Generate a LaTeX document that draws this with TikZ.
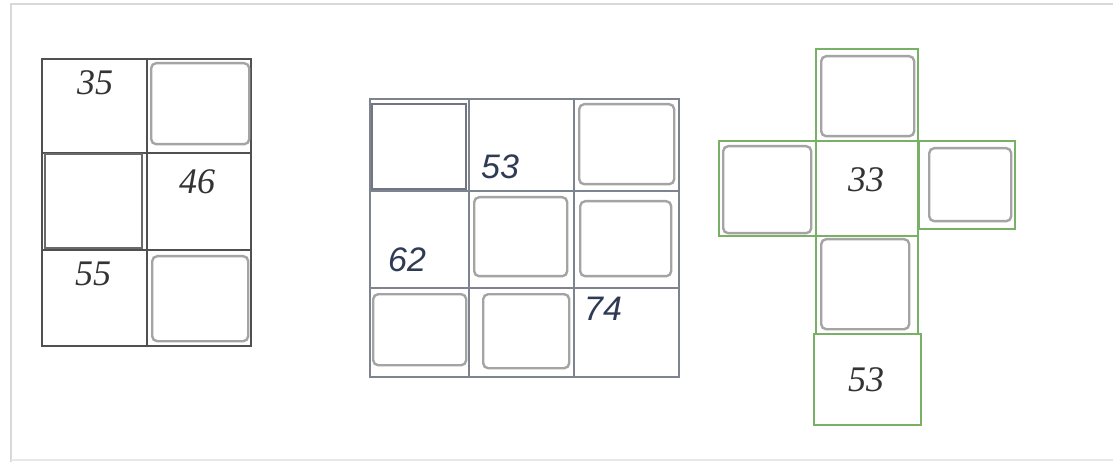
\documentclass[tikz,border=0pt]{standalone}
\usepackage{fontspec}
\setmainfont{Liberation Serif}
\newfontfamily\numsans{Liberation Sans}
\definecolor{gridL}{HTML}{505050}
\definecolor{gridM}{HTML}{7E8390}
\definecolor{gridG}{HTML}{78B066}
\definecolor{inner}{HTML}{A4A4A4}
\definecolor{numM}{HTML}{2F3A55}
\definecolor{frame}{HTML}{D8D8D8}
\tikzset{
  cellL/.style={draw=gridL, line width=2pt, anchor=north west, inner sep=0pt},
  cellM/.style={draw=gridM, line width=1.9pt, anchor=north west, inner sep=0pt},
  cellG/.style={draw=gridG, line width=2.1pt, anchor=north west, inner sep=0pt},
  rbox/.style={draw=inner, line width=2.4pt, rounded corners=5pt, anchor=north west, inner sep=0pt},
  pbox/.style={draw=gridL!85, line width=2.2pt, anchor=north west, inner sep=0pt},
  numS/.style={font=\fontsize{36}{36}\selectfont\itshape, text=black!80, inner sep=0pt},
  numA/.style={font=\numsans\fontsize{34}{34}\selectfont\itshape, text=numM, inner sep=0pt},
}
\begin{document}
\begin{tikzpicture}[x=1pt,y=-1pt]
\useasboundingbox (0,0) rectangle (1113,462);
\fill[white] (0,0) rectangle (1113,462);
% faint frame
\draw[frame, line width=2.5pt] (11,462) -- (11,4) -- (1113,4);
\draw[frame!60, line width=1.5pt] (11,460) -- (1113,460);

% ---------- left grid ----------
\node[cellL, minimum width=105pt, minimum height=94pt] (l11) at (41,58) {};
\node[cellL, minimum width=104pt, minimum height=94pt] (l12) at (146,58) {};
\node[cellL, minimum width=105pt, minimum height=97pt] (l21) at (41,152) {};
\node[cellL, minimum width=104pt, minimum height=97pt] (l22) at (146,152) {};
\node[cellL, minimum width=105pt, minimum height=96pt] (l31) at (41,249) {};
\node[cellL, minimum width=104pt, minimum height=96pt] (l32) at (146,249) {};
\node[rbox, minimum width=98pt, minimum height=81pt] (lb12) at (150,62) {};
\node[pbox, minimum width=97pt, minimum height=94pt] (lb21) at (44,153) {};
\node[rbox, minimum width=96pt, minimum height=85pt] (lb32) at (151,255) {};
\node[numS] (n35) at (95,83) {35};
\node[numS] (n46) at (197,182) {46};
\node[numS] (n55) at (93,274) {55};

% ---------- middle grid ----------
\node[cellM, minimum width=99pt, minimum height=92pt] (m11) at (369,98) {};
\node[cellM, minimum width=105pt, minimum height=92pt] (m12) at (468,98) {};
\node[cellM, minimum width=105pt, minimum height=92pt] (m13) at (573,98) {};
\node[cellM, minimum width=99pt, minimum height=97pt] (m21) at (369,190) {};
\node[cellM, minimum width=105pt, minimum height=97pt] (m22) at (468,190) {};
\node[cellM, minimum width=105pt, minimum height=97pt] (m23) at (573,190) {};
\node[cellM, minimum width=99pt, minimum height=89pt] (m31) at (369,287) {};
\node[cellM, minimum width=105pt, minimum height=89pt] (m32) at (468,287) {};
\node[cellM, minimum width=105pt, minimum height=89pt] (m33) at (573,287) {};
\node[pbox, draw=gridM!90!black, minimum width=94pt, minimum height=85pt] (mb11) at (371,103) {};
\node[rbox, minimum width=95pt, minimum height=80pt] (mb13) at (578,103) {};
\node[rbox, minimum width=93pt, minimum height=79pt] (mb22) at (473,196) {};
\node[rbox, minimum width=91pt, minimum height=75pt] (mb23) at (579,200) {};
\node[rbox, minimum width=93pt, minimum height=71pt] (mb31) at (372,293) {};
\node[rbox, minimum width=86pt, minimum height=74pt] (mb32) at (482,293) {};
\node[numA] (n53a) at (500,167) {53};
\node[numA] (n62) at (407,260) {62};
\node[numA] (n74) at (603,309) {74};

% ---------- right cross ----------
\node[cellG, minimum width=102pt, minimum height=92pt] (g1) at (815,48) {};
\node[cellG, minimum width=97pt, minimum height=95pt] (g2l) at (718,140) {};
\node[cellG, minimum width=102pt, minimum height=95pt] (g2c) at (815,140) {};
\node[cellG, minimum width=96pt, minimum height=88pt] (g2r) at (918,140) {};
\node[cellG, minimum width=102pt, minimum height=98pt] (g3) at (815,235) {};
\node[cellG, minimum width=107pt, minimum height=91pt] (g4) at (813,333) {};
\node[rbox, minimum width=93pt, minimum height=80pt] (gb1) at (820,55) {};
\node[rbox, minimum width=88pt, minimum height=87pt] (gb2l) at (722,145) {};
\node[rbox, minimum width=82pt, minimum height=73pt] (gb2r) at (928,147) {};
\node[rbox, minimum width=88pt, minimum height=90pt] (gb3) at (820,238) {};
\node[numS] (n33) at (866,180) {33};
\node[numS] (n53b) at (866,380) {53};
\end{tikzpicture}
\end{document}
